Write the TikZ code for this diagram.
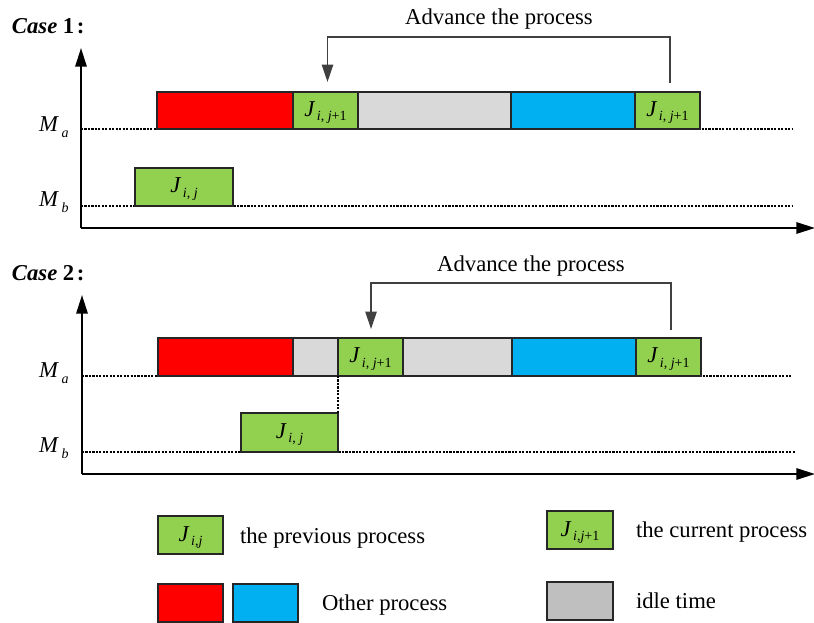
\documentclass[tikz,border=0pt]{standalone}
\usepackage{fontspec}
\setmainfont{Liberation Serif}
\usetikzlibrary{arrows.meta,fit}

\definecolor{procred}{HTML}{FF0000}
\definecolor{procblue}{HTML}{00B0F0}
\definecolor{jobgreen}{HTML}{92D050}
\definecolor{idlegray}{HTML}{D9D9D9}
\definecolor{keygray}{HTML}{BFBFBF}

% J with a lowered subscript, e.g. J_{i,j}
\newcommand\Jsub[1]{\textit{J}\kern1.2pt\raisebox{-3.2pt}{\fontsize{10.5}{11}\selectfont #1}}
% machine label M with a lowered subscript
\newcommand\Mlab[1]{\textit{M}\kern2pt\raisebox{-4.5pt}{\fontsize{10.5}{11}\selectfont\textit{#1}}}

\tikzset{
  box/.style={draw=black!85, line width=1pt, inner sep=0pt, outer sep=0pt},
  jobbox/.style={box, fill=jobgreen},
  redbox/.style={box, fill=procred},
  bluebox/.style={box, fill=procblue},
  idlebox/.style={box, fill=idlegray},
  keyidle/.style={box, fill=keygray},
  guide/.style={line width=0.9pt, dash pattern=on 1.6pt off 1pt},
  axis/.style={line width=1.5pt, -{Triangle[length=14pt,width=8.5pt]}},
  advance/.style={draw=black!75, line width=1.1pt, -{Triangle[length=13pt,width=8.5pt]}},
  txt/.style={font=\fontsize{17}{20}\selectfont, inner sep=0pt, outer sep=0pt},
  joblab/.style={txt, anchor=base},
}

\begin{document}
\begin{tikzpicture}[x=0.75pt,y=-0.75pt]
\useasboundingbox (0,0) rectangle (814,623);

% ---------------- Case 1 ----------------
\node[txt, anchor=base west] (case1) at (12,34) {\textbf{\textit{Case} 1\kern2pt:}};

\coordinate (o1) at (81,228);
\coordinate (ytop1) at (81,48);
\coordinate (xend1) at (815,228);
\coordinate (ma1) at (81,129);
\coordinate (ma1e) at (793,129);
\coordinate (mb1) at (81,206);
\coordinate (mb1e) at (793,206);

\draw[guide] (ma1) -- (ma1e);
\draw[guide] (mb1) -- (mb1e);
\draw[axis] (o1) -- (ytop1);
\draw[axis] (o1) -- (xend1);

\node[txt, anchor=base west] (lma1) at (39,132) {\Mlab{a}};
\node[txt, anchor=base west] (lmb1) at (39,207) {\Mlab{b}};

\node[redbox,  fit={(157,92)(293,129)}] (c1r) {};
\node[jobbox,  fit={(293,92)(358,129)}] (c1g1) {};
\node[idlebox, fit={(358,92)(511,129)}] (c1i) {};
\node[bluebox, fit={(511,92)(635,129)}] (c1b) {};
\node[jobbox,  fit={(635,92)(700,129)}] (c1g2) {};
\node[jobbox,  fit={(135,168)(233,206)}] (c1p) {};

\node[joblab] (c1g1l) at ([yshift=-4.5pt]c1g1.center) {\Jsub{\textit{i}, \textit{j}+1}};
\node[joblab] (c1g2l) at ([yshift=-4.5pt]c1g2.center) {\Jsub{\textit{i}, \textit{j}+1}};
\node[joblab] (c1pl)  at ([yshift=-4.5pt]c1p.center)  {\Jsub{\textit{i}, \textit{j}}};

\draw[advance] ([xshift=2pt,yshift=6.75pt]c1g2.north) -- ++(0,-46)
  -| ([xshift=1.5pt,yshift=7.5pt]c1g1.north);
\node[txt, anchor=base] (adv1) at (499,25) {Advance the process};

% ---------------- Case 2 ----------------
\node[txt, anchor=base west] (case2) at (12,281) {\textbf{\textit{Case} 2\kern2pt:}};

\coordinate (o2) at (82,474);
\coordinate (ytop2) at (82,295);
\coordinate (xend2) at (815,474);
\coordinate (ma2) at (82,376);
\coordinate (ma2e) at (791,376);
\coordinate (mb2) at (82,452);
\coordinate (mb2e) at (795,452);

\draw[guide] (ma2) -- (ma2e);
\draw[guide] (mb2) -- (mb2e);
\draw[axis] (o2) -- (ytop2);
\draw[axis] (o2) -- (xend2);

\node[txt, anchor=base west] (lma2) at (39,378) {\Mlab{a}};
\node[txt, anchor=base west] (lmb2) at (39,453) {\Mlab{b}};

\node[redbox,  fit={(158,338)(293,376)}] (c2r) {};
\node[idlebox, fit={(293,338)(338,376)}] (c2i1) {};
\node[jobbox,  fit={(338,338)(403,376)}] (c2g1) {};
\node[idlebox, fit={(403,338)(512,376)}] (c2i2) {};
\node[bluebox, fit={(512,338)(636,376)}] (c2b) {};
\node[jobbox,  fit={(636,338)(701,376)}] (c2g2) {};
\node[jobbox,  fit={(241,413)(338,452)}] (c2p) {};

\node[joblab] (c2g1l) at ([yshift=-4.5pt]c2g1.center) {\Jsub{\textit{i}, \textit{j}+1}};
\node[joblab] (c2g2l) at ([yshift=-4.5pt]c2g2.center) {\Jsub{\textit{i}, \textit{j}+1}};
\node[joblab] (c2pl)  at ([yshift=-4.5pt]c2p.center)  {\Jsub{\textit{i}, \textit{j}}};

\draw[guide] (c2g1.south west) -- (c2p.north east);

\draw[advance] ([xshift=1.7pt,yshift=6pt]c2g2.north) -- ++(0,-47)
  -| ([xshift=0.4pt,yshift=6.75pt]c2g1.north);
\node[txt, anchor=base] (adv2) at (531,272) {Advance the process};

% ---------------- Legend ----------------
\node[jobbox,  fit={(158,516)(223,554)}] (kprev) {};
\node[joblab] (kprevl) at ([yshift=-4.5pt]kprev.center) {\Jsub{\textit{i},\textit{j}}};
\node[txt, anchor=base west] (kprevt) at (240,543) {the previous process};

\node[jobbox,  fit={(547,511)(613,549)}] (kcur) {};
\node[joblab] (kcurl) at ([yshift=-4.5pt]kcur.center) {\Jsub{\textit{i},\textit{j}+1}};
\node[txt, anchor=base west] (kcurt) at (636,537) {the current process};

\node[redbox,  fit={(158,584)(223,622)}] (kred) {};
\node[bluebox, fit={(233,584)(298,622)}] (kblue) {};
\node[txt, anchor=base west] (kothert) at (322,610) {Other process};

\node[keyidle, fit={(547,582)(613,620)}] (kidle) {};
\node[txt, anchor=base west] (kidlet) at (636,608) {idle time};
\end{tikzpicture}
\end{document}
